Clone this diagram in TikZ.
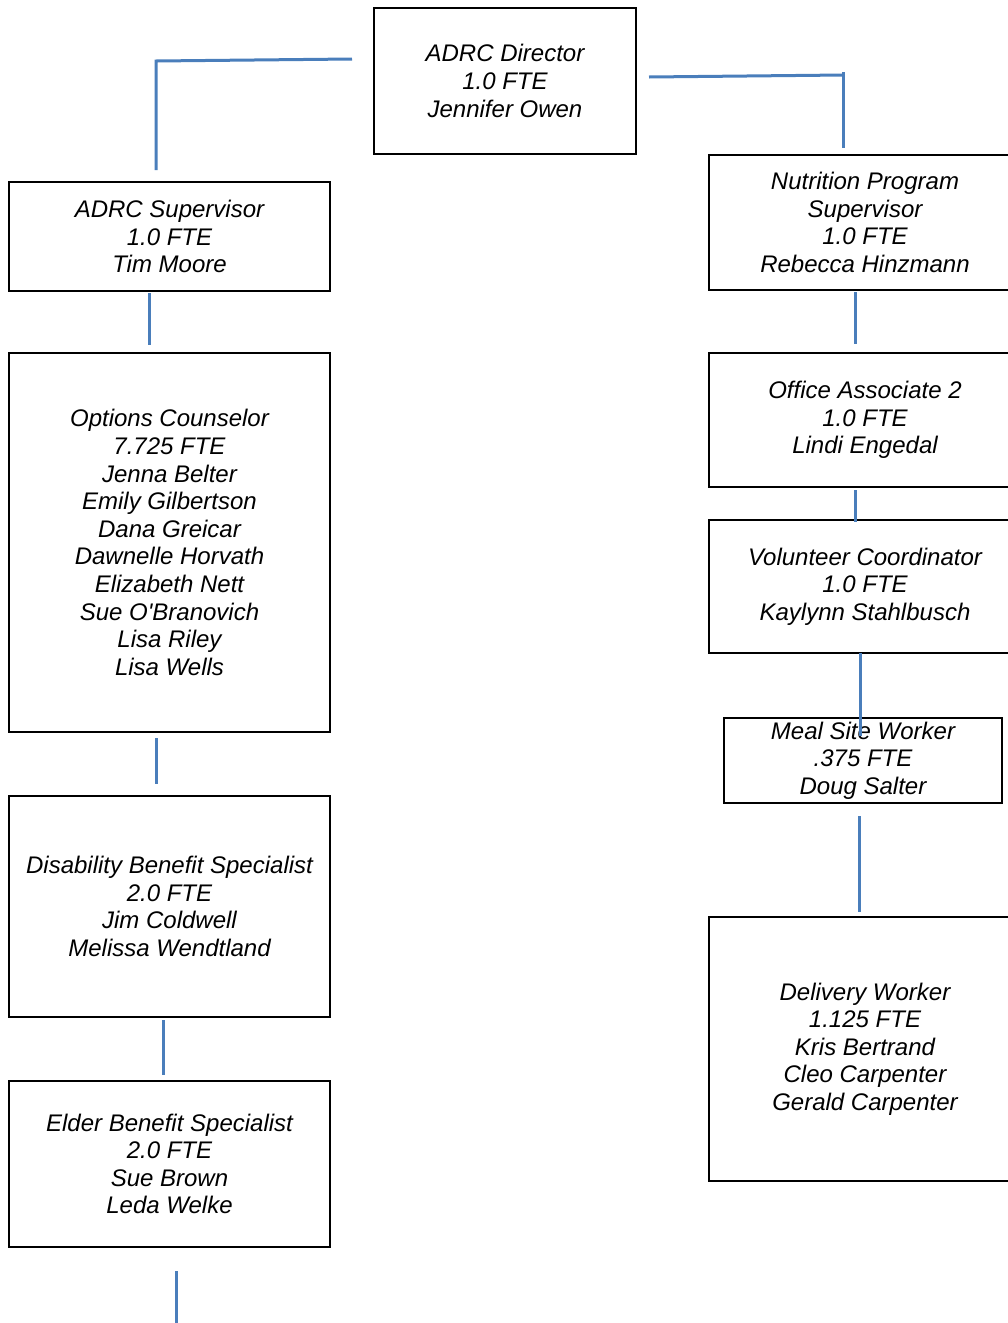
\documentclass[tikz,border=0pt]{standalone}
\usepackage{fontspec}
\setmainfont{Liberation Sans}[Ligatures=TeXOff]
\definecolor{conn}{HTML}{4A7EBB}
\begin{document}
\begin{tikzpicture}[x=1pt,y=-1pt,
  box/.style={draw=black,line width=2pt,fill=none,align=center,inner sep=0pt,
    font=\fontsize{24}{27.6}\selectfont\itshape},
  thinbox/.style={box,line width=1.2pt},
  link/.style={draw=conn,line width=3pt}]
\clip (0,0) rectangle (1008,1323);
\useasboundingbox (0,0) rectangle (1008,1323);
% boxes
\node[box,minimum width=262pt,minimum height=146pt] (dir) at (505,81) {ADRC Director\\1.0 FTE\\Jennifer Owen};
\node[box,minimum width=321pt,minimum height=109pt] (sup) at (169.5,236.5) {ADRC Supervisor\\1.0 FTE\\Tim Moore};
\node[box,minimum width=321pt,minimum height=379pt] (oc) at (169.5,542.5) {Options Counselor\\7.725 FTE\\Jenna Belter\\Emily Gilbertson\\Dana Greicar\\Dawnelle Horvath\\Elizabeth Nett\\Sue O'Branovich\\Lisa Riley\\Lisa Wells};
\node[box,minimum width=321pt,minimum height=221pt] (dbs) at (169.5,906.5) {Disability Benefit Specialist\\2.0 FTE\\Jim Coldwell\\Melissa Wendtland};
\node[box,minimum width=321pt,minimum height=166pt] (ebs) at (169.5,1164) {Elder Benefit Specialist\\2.0 FTE\\Sue Brown\\Leda Welke};
\node[thinbox,minimum width=312pt,minimum height=135pt] (nps) at (865,222.5) {Nutrition Program\\Supervisor\\1.0 FTE\\Rebecca Hinzmann};
\node[box,minimum width=312pt,minimum height=134pt] (oa) at (865,420) {Office Associate 2\\1.0 FTE\\Lindi Engedal};
\node[box,minimum width=312pt,minimum height=133pt] (vc) at (865,586.5) {Volunteer Coordinator\\1.0 FTE\\Kaylynn Stahlbusch};
\node[thinbox,minimum width=278pt,minimum height=85pt] (msw) at (863,760.5) {Meal Site Worker\\.375 FTE\\Doug Salter};
\node[box,minimum width=312pt,minimum height=264pt] (dw) at (865,1049) {Delivery Worker\\1.125 FTE\\Kris Bertrand\\Cleo Carpenter\\Gerald Carpenter};
% connector end points
\coordinate (l0) at (352,59);
\coordinate (l1) at (156,61);
\coordinate (l2) at (156,170);
\coordinate (r0) at (649,77);
\coordinate (r1) at (844,75);
\coordinate (r1t) at (843,72);
\coordinate (r2) at (843,148);
\coordinate (a1) at (149,293);
\coordinate (a2) at (149,345);
\coordinate (b1) at (156,738);
\coordinate (b2) at (156,784);
\coordinate (c1) at (163,1020);
\coordinate (c2) at (163,1075);
\coordinate (d1) at (176,1271);
\coordinate (d2) at (176,1323);
\coordinate (e1) at (855,292);
\coordinate (e2) at (855,344);
\coordinate (f1) at (855,490);
\coordinate (f2) at (855,522);
\coordinate (g1) at (860,653);
\coordinate (g2) at (860,736);
\coordinate (h1) at (859,816);
\coordinate (h2) at (859,912);
% connectors
\draw[link] (l0) -- (l1) -- (l2);
\draw[link] (r0) -- (r1);
\draw[link] (r1t) -- (r2);
\draw[link] (a1) -- (a2);
\draw[link] (b1) -- (b2);
\draw[link] (c1) -- (c2);
\draw[link] (d1) -- (d2);
\draw[link] (e1) -- (e2);
\draw[link] (f1) -- (f2);
\draw[link] (g1) -- (g2);
\draw[link] (h1) -- (h2);
\end{tikzpicture}
\end{document}
